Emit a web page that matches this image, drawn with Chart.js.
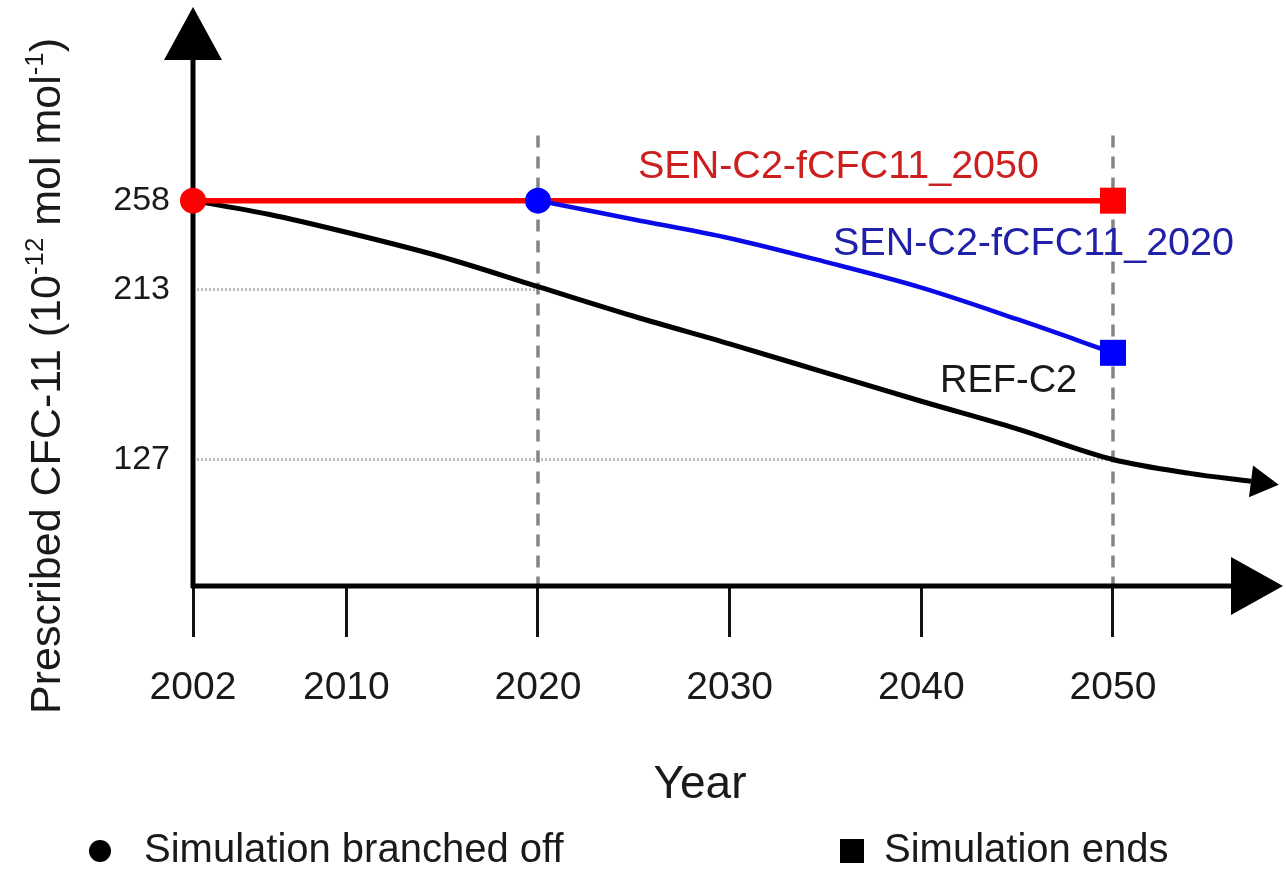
<!DOCTYPE html>
<html>
<head>
<meta charset="utf-8">
<title>Prescribed CFC-11 scenarios</title>
<script src="https://cdn.jsdelivr.net/npm/chart.js@4.4.1/dist/chart.umd.min.js"></script>
<style>
  html, body { margin: 0; padding: 0; background: #fff; }
  #wrap { width: 1286px; height: 870px; }
</style>
</head>
<body>
<div id="wrap"><canvas id="cfcChart" width="1286" height="870"></canvas></div>
<script>
const refYears = [2002, 2006, 2010, 2015, 2020, 2025, 2030, 2035, 2040, 2045, 2050, 2054, 2057.2];
const refValues = [258, 251, 242, 229.5, 214.5, 199.5, 185.5, 171, 156.5, 142.5, 127, 120, 116];

const sen2020Years = [2020, 2025, 2030, 2035, 2040, 2045, 2050];
const sen2020Values = [258, 248.5, 239, 227, 214, 198, 181];

const sen2050Years = [2002, 2050];
const sen2050Values = [258, 258];

const xTickYears = [2002, 2010, 2020, 2030, 2040, 2050];
const yTickValues = [258, 213, 127];

// guide lines
const branchYears = [2020, 2050];
const guideTop = 291;
const levelValues = [213, 127];
const levelEndYears = [2020, 2050];

const seriesNames = ['SEN-C2-fCFC11_2050', 'SEN-C2-fCFC11_2020', 'REF-C2'];
const legendNames = ['Simulation branched off', 'Simulation ends'];
const xTitle = 'Year';

const FONT = '"Liberation Sans", Arial, sans-serif';
const TEXT = '#1a1a1a';

function toPoints(xs, ys) {
    return xs.map((v, i) => ({ x: v, y: ys[i] }));
}

// y title with real superscripts
function drawRich(ctx, parts, size) {
    let total = 0;
    parts.forEach(p => {
        ctx.font = `${p.sup ? size * 0.6 : size}px ${FONT}`;
        p.w = ctx.measureText(p.t).width;
        total += p.w;
    });
    let cx = -total / 2;
    parts.forEach(p => {
        ctx.font = `${p.sup ? size * 0.6 : size}px ${FONT}`;
        ctx.fillText(p.t, cx, p.sup ? -size * 0.4 : 0);
        cx += p.w;
    });
}

const cfcAnnotations = {
    id: 'cfcAnnotations',
    beforeDatasetsDraw(chart) {
        const { ctx, chartArea: area, scales: { x, y } } = chart;
        ctx.save();

        // dotted level lines
        ctx.strokeStyle = '#bdbdbd';
        ctx.lineWidth = 3;
        ctx.setLineDash([2, 2]);
        levelValues.forEach((v, i) => {
            const py = y.getPixelForValue(v);
            ctx.beginPath();
            ctx.moveTo(area.left, py);
            ctx.lineTo(x.getPixelForValue(levelEndYears[i]), py);
            ctx.stroke();
        });

        // dashed verticals
        ctx.strokeStyle = '#858585';
        ctx.lineWidth = 3.5;
        ctx.setLineDash([12, 9]);
        branchYears.forEach(yr => {
            const px = x.getPixelForValue(yr);
            ctx.beginPath();
            ctx.moveTo(px, y.getPixelForValue(guideTop));
            ctx.lineTo(px, area.bottom);
            ctx.stroke();
        });
        ctx.setLineDash([]);

        // axes + arrow heads
        ctx.strokeStyle = '#000';
        ctx.fillStyle = '#000';
        ctx.lineWidth = 5;
        ctx.beginPath();
        ctx.moveTo(area.left, area.bottom + 2);
        ctx.lineTo(area.left, area.top + 50);
        ctx.moveTo(area.left - 2, area.bottom);
        ctx.lineTo(area.right - 48, area.bottom);
        ctx.stroke();

        ctx.beginPath();
        ctx.moveTo(area.left, area.top);
        ctx.lineTo(area.left - 29, area.top + 53);
        ctx.lineTo(area.left + 29, area.top + 53);
        ctx.closePath();
        ctx.fill();

        ctx.beginPath();
        ctx.moveTo(area.right, area.bottom);
        ctx.lineTo(area.right - 52, area.bottom - 29);
        ctx.lineTo(area.right - 52, area.bottom + 29);
        ctx.closePath();
        ctx.fill();
        ctx.restore();
    },
    afterDatasetsDraw(chart) {
        // arrow head at the end of REF-C2
        const pts = chart.getDatasetMeta(2).data;
        const a = pts[pts.length - 2], b = pts[pts.length - 1];
        const dx = b.x - a.x, dy = b.y - a.y;
        const len = Math.hypot(dx, dy);
        const ux = dx / len, uy = dy / len;
        const { ctx } = chart;
        ctx.save();
        ctx.fillStyle = '#000';
        ctx.beginPath();
        ctx.moveTo(b.x + ux * 28, b.y + uy * 28);
        ctx.lineTo(b.x - uy * 16, b.y + ux * 16);
        ctx.lineTo(b.x + uy * 16, b.y - ux * 16);
        ctx.closePath();
        ctx.fill();
        ctx.restore();
    },
    afterDraw(chart) {
        const { ctx } = chart;
        ctx.save();
        ctx.textBaseline = 'alphabetic';
        ctx.textAlign = 'left';

        // series labels
        ctx.font = `39.5px ${FONT}`;
        ctx.fillStyle = '#cc2020';
        ctx.fillText(seriesNames[0], 638, 178);
        ctx.fillStyle = '#2020a8';
        ctx.fillText(seriesNames[1], 833, 255);
        ctx.font = `38px ${FONT}`;
        ctx.fillStyle = TEXT;
        ctx.fillText(seriesNames[2], 940, 392);

        // x title
        ctx.font = `46px ${FONT}`;
        ctx.textAlign = 'center';
        ctx.fillText(xTitle, 700, 798);

        // y title
        ctx.save();
        ctx.translate(60, 376);
        ctx.rotate(-Math.PI / 2);
        ctx.textAlign = 'left';
        drawRich(ctx, [
            { t: 'Prescribed CFC-11 (10' },
            { t: '-12', sup: true },
            { t: ' mol mol' },
            { t: '-1', sup: true },
            { t: ')' }
        ], 43);
        ctx.restore();

        // legend
        ctx.textAlign = 'left';
        ctx.font = `40px ${FONT}`;
        ctx.fillStyle = '#000';
        ctx.beginPath();
        ctx.arc(100, 851, 11, 0, Math.PI * 2);
        ctx.fill();
        ctx.fillRect(840, 839, 24, 24);
        ctx.fillStyle = TEXT;
        ctx.fillText(legendNames[0], 144, 862);
        ctx.fillText(legendNames[1], 884, 862);
        ctx.restore();
    }
};

new Chart(document.getElementById('cfcChart'), {
    type: 'line',
    data: {
        datasets: [
            {
                label: seriesNames[1],
                data: toPoints(sen2020Years, sen2020Values),
                borderColor: '#0a0ae8',
                borderWidth: 4.5,
                cubicInterpolationMode: 'monotone',
                pointStyle: sen2020Years.map((_, i) => i === 0 ? 'circle' : 'rect'),
                pointRadius: sen2020Years.map((_, i) => i === 0 ? 13 : (i === sen2020Years.length - 1 ? 18.4 : 0)),
                pointBackgroundColor: '#0000ff',
                pointBorderWidth: 0,
                clip: false
            },
            {
                label: seriesNames[0],
                data: toPoints(sen2050Years, sen2050Values),
                borderColor: '#ff0000',
                borderWidth: 5.5,
                pointStyle: ['circle', 'rect'],
                pointRadius: [13, 18.4],
                pointBackgroundColor: '#ff0000',
                pointBorderWidth: 0,
                clip: false
            },
            {
                label: seriesNames[2],
                data: toPoints(refYears, refValues),
                borderColor: '#000',
                borderWidth: 5,
                cubicInterpolationMode: 'monotone',
                pointRadius: 0,
                clip: false
            }
        ]
    },
    options: {
        responsive: false,
        animation: false,
        events: [],
        layout: { autoPadding: false, padding: { top: 7, right: 3, bottom: 0, left: 0 } },
        plugins: {
            legend: { display: false },
            tooltip: { enabled: false }
        },
        scales: {
            x: {
                type: 'linear',
                min: 2002,
                max: 2058.87,
                afterBuildTicks: s => { s.ticks = xTickYears.map(v => ({ value: v })); },
                afterFit: s => { s.height = 284; s.paddingLeft = 0; s.paddingRight = 0; },
                grid: { display: true, drawOnChartArea: false, drawTicks: true, tickLength: 51, lineWidth: 3, color: '#111' },
                border: { display: false },
                ticks: {
                    autoSkip: false,
                    maxRotation: 0,
                    padding: 28,
                    color: TEXT,
                    font: { family: FONT, size: 39 },
                    callback: v => String(v)
                }
            },
            y: {
                type: 'linear',
                min: 63,
                max: 356,
                afterBuildTicks: s => { s.ticks = yTickValues.map(v => ({ value: v })); },
                afterFit: s => { s.width = 193; s.paddingTop = 0; s.paddingBottom = 0; },
                grid: { display: false, drawTicks: false },
                border: { display: false },
                ticks: {
                    padding: 23,
                    color: TEXT,
                    font: { family: FONT, size: 34 },
                    callback: v => String(v)
                }
            }
        }
    },
    plugins: [cfcAnnotations]
});
</script>
</body>
</html>
